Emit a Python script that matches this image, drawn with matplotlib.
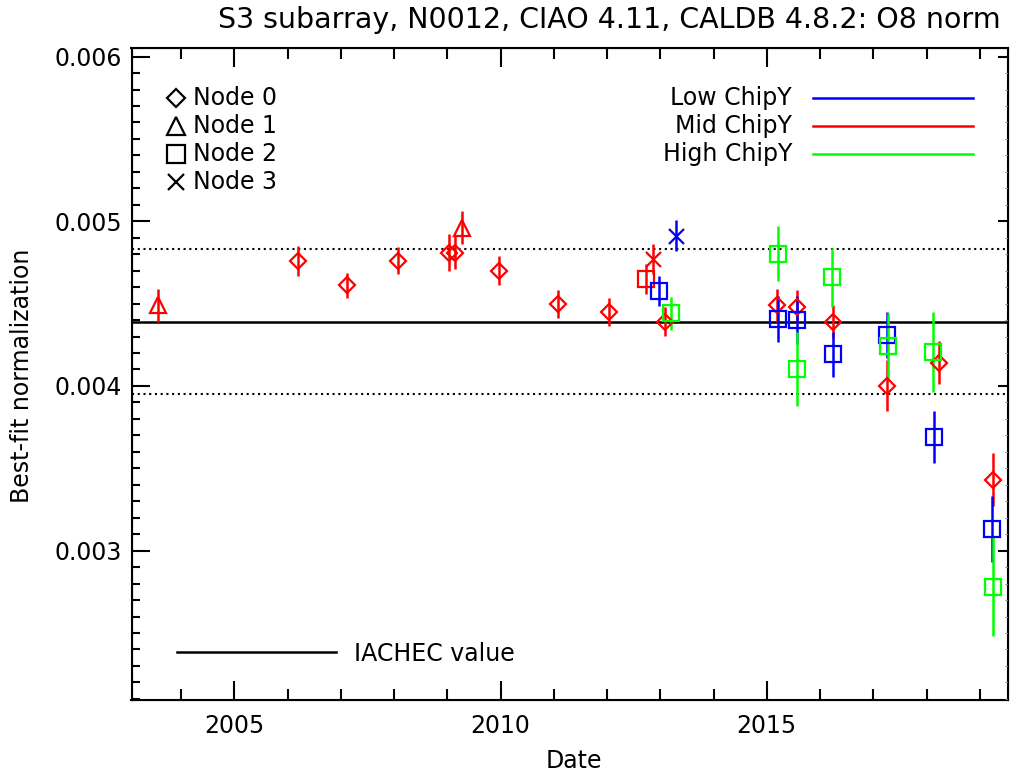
import matplotlib
matplotlib.use('Agg')
import matplotlib.pyplot as plt
from matplotlib.ticker import MultipleLocator

# O8 normalization fits per node and ChipY region
iachec = 0.00439

# Node 0, mid ChipY
n0_mid_date = [2006.20, 2007.11, 2008.08, 2009.04, 2009.15, 2009.98, 2011.07, 2012.03,
               2013.08, 2015.19, 2015.56, 2016.24, 2017.26, 2018.23, 2019.25]
n0_mid_norm = [0.00476, 0.00461, 0.00476, 0.00481, 0.00481, 0.00470, 0.00450, 0.00445,
               0.00439, 0.00449, 0.00448, 0.00439, 0.00400, 0.00414, 0.00343]
n0_mid_err = [0.00009, 0.000076, 0.000082, 0.00011, 0.0001, 0.00009, 0.000085, 0.000087,
              0.000088, 0.0001, 0.0001, 0.0001, 0.000155, 0.00013, 0.00016]

# Node 1, mid ChipY
n1_mid_date = [2003.57, 2009.27]
n1_mid_norm = [0.00449, 0.00496]
n1_mid_err = [0.0001, 0.0001]

# Node 2
n2_mid_date = [2012.74]
n2_mid_norm = [0.00465]
n2_mid_err = [0.00009]

n2_low_date = [2012.97, 2015.21, 2015.56, 2016.24, 2017.26, 2018.14, 2019.23]
n2_low_norm = [0.004576, 0.004406, 0.00440, 0.004191, 0.004309, 0.00369, 0.003133]
n2_low_err = [0.00009, 0.00014, 0.000145, 0.000136, 0.00014, 0.000158, 0.0002]

n2_high_date = [2013.20, 2015.21, 2015.56, 2016.22, 2017.27, 2018.12, 2019.25]
n2_high_norm = [0.004442, 0.004803, 0.004103, 0.00466, 0.004242, 0.004206, 0.002782]
n2_high_err = [0.0001, 0.000167, 0.000224, 0.00018, 0.0002, 0.00024, 0.0003]

# Node 3
n3_mid_date = [2012.86]
n3_mid_norm = [0.00477]
n3_mid_err = [0.00009]

n3_low_date = [2013.29]
n3_low_norm = [0.004912]
n3_low_err = [0.000094]

node_labels = ['Node 0', 'Node 1', 'Node 2', 'Node 3']
chipy_labels = ['Low ChipY', 'Mid ChipY', 'High ChipY']
chipy_colors = ['#0000ff', '#ff0000', '#00ff00']
LOW, MID, HIGH = chipy_colors

W, H = 1010, 772
fig = plt.figure(figsize=(W / 100, H / 100), dpi=100)
ax = fig.add_axes([131.5 / W, 1 - 700 / H, (1008 - 131.5) / W, (700 - 48) / H])

marker_kw = {'D': dict(marker='D', ms=8.2),
             '^': dict(marker='^', ms=12),
             's': dict(marker='s', ms=11.5),
             'x': dict(marker='x', ms=10.8)}


def plot_series(x, y, e, mk, color):
    ax.errorbar(x, y, yerr=e, fmt='none', ecolor=color, elinewidth=1.8, capsize=0, zorder=3)
    ax.plot(x, y, ls='none', mfc='none', mec=color, mew=1.6, zorder=4, **marker_kw[mk])


# reference value and +/-10% band
ax.axhline(iachec, color='black', lw=1.8, zorder=2)
ax.axhline(iachec * 1.1, color='black', lw=1.5, ls=(0, (1, 1.75)), zorder=2)
ax.axhline(iachec * 0.9, color='black', lw=1.5, ls=(0, (1, 1.75)), zorder=2)

plot_series(n0_mid_date, n0_mid_norm, n0_mid_err, 'D', MID)
plot_series(n1_mid_date, n1_mid_norm, n1_mid_err, '^', MID)
plot_series(n2_mid_date, n2_mid_norm, n2_mid_err, 's', MID)
plot_series(n3_mid_date, n3_mid_norm, n3_mid_err, 'x', MID)
plot_series(n2_low_date, n2_low_norm, n2_low_err, 's', LOW)
plot_series(n3_low_date, n3_low_norm, n3_low_err, 'x', LOW)
plot_series(n2_high_date, n2_high_norm, n2_high_err, 's', HIGH)

ax.set_xlim(2003.07, 2019.53)
ax.set_ylim(0.002093, 0.006052)

ax.xaxis.set_major_locator(MultipleLocator(5))
ax.xaxis.set_minor_locator(MultipleLocator(1))
ax.yaxis.set_major_locator(MultipleLocator(0.001))
ax.yaxis.set_minor_locator(MultipleLocator(0.0001))
ax.yaxis.set_major_formatter(plt.FuncFormatter(lambda v, p: f'{v:.3f}'))

ax.tick_params(axis='x', which='both', direction='in', top=True, width=1.5, labelsize=17, pad=10)
ax.tick_params(axis='x', which='major', length=14)
ax.tick_params(axis='x', which='minor', length=8)
ax.tick_params(axis='y', which='both', direction='in', right=False, width=1.5, labelsize=17, pad=7)
ax.tick_params(axis='y', which='major', length=13)
ax.tick_params(axis='y', which='minor', length=6)
for s in ax.spines.values():
    s.set_linewidth(1.5)

# right-hand axis has short thin ticks
rax = ax.twinx()
rax.set_ylim(ax.get_ylim())
rax.yaxis.set_major_locator(MultipleLocator(0.001))
rax.yaxis.set_minor_locator(MultipleLocator(0.0001))
rax.tick_params(axis='y', which='both', direction='in', labelright=False)
rax.tick_params(axis='y', which='major', length=7, width=1.5)
rax.tick_params(axis='y', which='minor', length=2, width=0.8, color='#888888')

# node symbol key
node_markers = ['D', '^', 's', 'x']
for i, (lab, mk) in enumerate(zip(node_labels, node_markers)):
    yf = 1 - (98 + 28 * i) / H
    kw = dict(marker_kw[mk])
    kw['ms'] = kw['ms'] * 1.1
    fig.add_artist(plt.Line2D([176 / W], [yf], ls='none', mfc='none', mec='black',
                              mew=1.6, **kw))
    fig.text(193 / W, yf, lab, fontsize=17, va='center', ha='left')

# ChipY colour key
for i, (lab, c) in enumerate(zip(chipy_labels, chipy_colors)):
    yf = 1 - (98 + 28 * i) / H
    fig.text(792 / W, yf, lab, fontsize=17, va='center', ha='right')
    fig.add_artist(plt.Line2D([813 / W, 973 / W], [yf, yf], color=c, lw=1.8))

fig.add_artist(plt.Line2D([177 / W, 336 / W], [1 - 652 / H] * 2, color='black', lw=1.8))
fig.text(354 / W, 1 - 654 / H, 'IACHEC value', fontsize=17, va='center', ha='left')

fig.text(609 / W, 1 - 20 / H, 'S3 subarray, N0012, CIAO 4.11, CALDB 4.8.2: O8 norm',
         fontsize=20.5, ha='center', va='center')
fig.text(22 / W, 1 - 376 / H, 'Best-fit normalization', fontsize=17, rotation=90,
         ha='center', va='center')
fig.text(574 / W, 1 - 761 / H, 'Date', fontsize=17, ha='center', va='center')

fig.savefig('out.png', dpi=100)
